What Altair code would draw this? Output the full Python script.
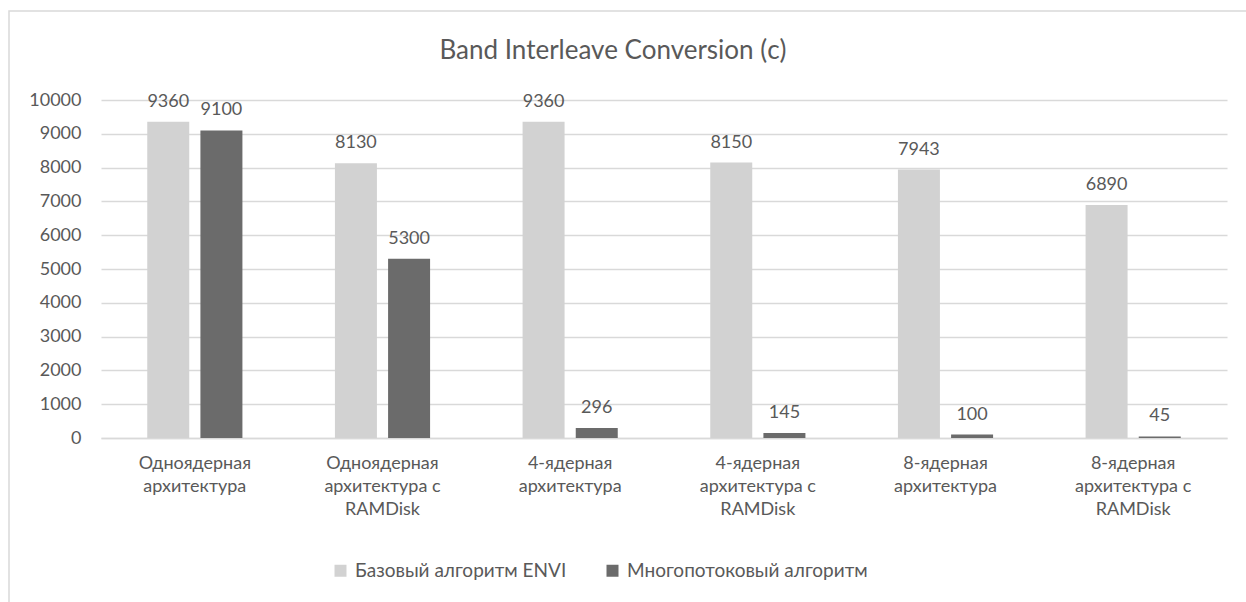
import altair as alt
import pandas as pd

categories = [
    "Одноядерная\nархитектура",
    "Одноядерная\nархитектура с\nRAMDisk",
    "4-ядерная\nархитектура",
    "4-ядерная\nархитектура с\nRAMDisk",
    "8-ядерная\nархитектура",
    "8-ядерная\nархитектура с\nRAMDisk",
]
series = ["Базовый алгоритм ENVI", "Многопотоковый алгоритм"]
base_values = [9360, 8130, 9360, 8150, 7943, 6890]
multi_values = [9100, 5300, 296, 145, 100, 45]
colors = ["#d2d2d2", "#6b6b6b"]

rows = []
for c, v in zip(categories, base_values):
    rows.append({"cat": c, "series": series[0], "value": v})
for c, v in zip(categories, multi_values):
    rows.append({"cat": c, "series": series[1], "value": v})
df = pd.DataFrame(rows)

FONT = "Lato"
GREY = "#595959"

x = alt.X("cat:N", sort=categories, title=None,
          scale=alt.Scale(paddingInner=0, paddingOuter=0),
          axis=alt.Axis(labelAngle=0, labelExpr="split(datum.value, '\\n')",
                        labelFont=FONT, labelFontSize=18, labelColor=GREY,
                        labelLineHeight=23, labelPadding=16, labelBaseline="top",
                        ticks=False, domainColor="#d9d9d9", domainWidth=1.5,
                        grid=False, labelLimit=300))
xo = alt.XOffset("series:N", sort=series,
                 scale=alt.Scale(paddingInner=0.21, paddingOuter=0.87))
y = alt.Y("value:Q", title=None,
          scale=alt.Scale(domain=[0, 10000], nice=False),
          axis=alt.Axis(values=list(range(0, 10001, 1000)), format="d",
                        labelFont=FONT, labelFontSize=18, labelColor=GREY,
                        labelPadding=20, ticks=False, domain=False,
                        gridColor="#d9d9d9", gridWidth=1.5))
color = alt.Color("series:N", sort=series,
                  scale=alt.Scale(domain=series, range=colors),
                  legend=alt.Legend(title=None, orient="none", direction="horizontal",
                                    legendX=230, legendY=461,
                                    symbolType="square", symbolSize=144,
                                    symbolStrokeWidth=0, labelFont=FONT,
                                    labelFontSize=19, labelColor=GREY,
                                    labelOffset=5, columnPadding=36,
                                    labelLimit=400))

bars = alt.Chart(df).mark_bar().encode(x=x, xOffset=xo, y=y, color=color)
labels = alt.Chart(df).mark_text(baseline="bottom", dy=-11, font=FONT,
                                 fontSize=18, color=GREY).encode(
    x=x, xOffset=xo, y=y, text=alt.Text("value:Q", format="d"))

border = alt.Chart(pd.DataFrame({"a": [0]})).mark_rect(
    fill=None, stroke="#d9d9d9", strokeWidth=1.5, clip=False).encode(
    x=alt.value(-92), x2=alt.value(1160), y=alt.value(-89), y2=alt.value(520))

chart = alt.layer(border, bars, labels).properties(
    width=1126, height=338,
    title=alt.TitleParams("Band Interleave Conversion (с)", font=FONT,
                          fontSize=26, fontWeight="normal", color=GREY,
                          anchor="middle", dx=-51, offset=-54),
    padding={"left": 101, "top": 100, "right": 19, "bottom": 164},
    autosize=alt.AutoSizeParams(type="none"),
).configure_view(stroke=None)

chart.save("out.html", embed_options={"renderer": "svg", "actions": False})
